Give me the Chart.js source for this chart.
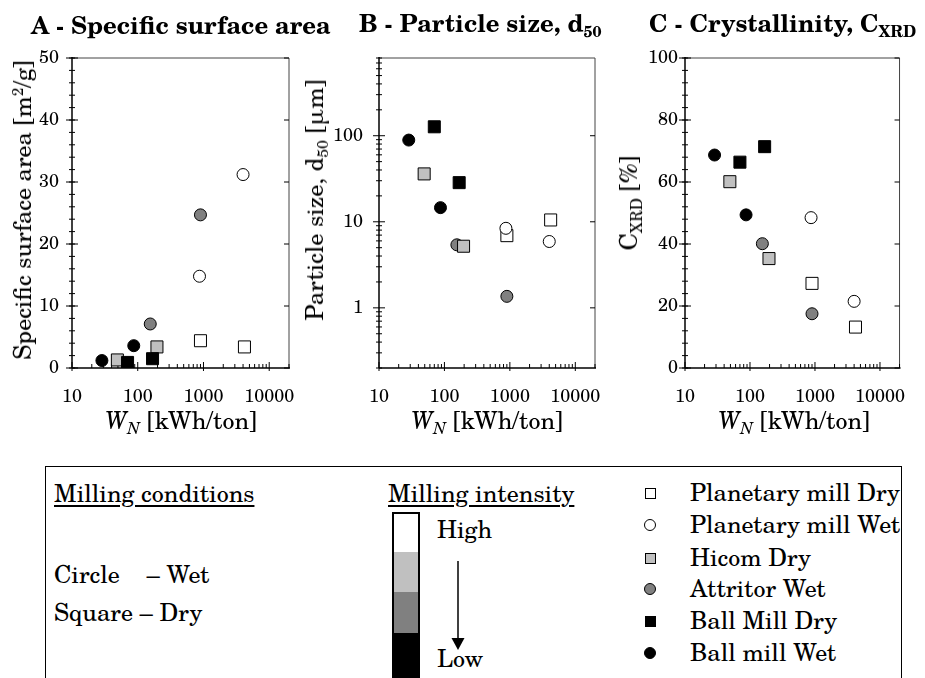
<!DOCTYPE html>
<html>
<head>
<meta charset="utf-8">
<script src="https://cdn.jsdelivr.net/npm/chart.js@4.4.0/dist/chart.umd.min.js"></script>
<style>
  body { margin: 0; width: 925px; height: 678px; background: #fff; position: relative; overflow: hidden;
         font-family: "TeX Gyre Schola", "Liberation Serif", serif; color: #000; }
  canvas.panel { position: absolute; left: 0; top: 0; }
  .t { position: absolute; white-space: pre; line-height: 1; }
  .title { font-weight: bold; font-size: 24px; }
  .title sub { font-size: 0.66em; vertical-align: -0.32em; line-height: 0; }
  .ax { font-size: 24px; }
  .ax sub { font-size: 0.66em; vertical-align: -0.3em; line-height: 0; }
  .ax sup { font-size: 0.62em; vertical-align: 0.55em; line-height: 0; }
  .rot { transform: translate(-50%, -50%) rotate(-90deg); }
  .ctr { transform: translateX(-50%); }
  .lg { font-size: 24px; }
  .ul { text-decoration: underline; text-decoration-thickness: 1.5px; text-underline-offset: 3px; }
  #legendBox { position: absolute; left: 45px; top: 466px; width: 855px; height: 240px; border: 1.5px solid #000; }
  .mk { position: absolute; box-sizing: border-box; border: 1px solid #000; }
</style>
</head>
<body>
<canvas id="chartA" class="panel" width="925" height="440"></canvas>
<canvas id="chartB" class="panel" width="925" height="440"></canvas>
<canvas id="chartC" class="panel" width="925" height="440"></canvas>

<div class="t title" data-x="31" data-b="34">A - Specific surface area</div>
<div class="t title" data-x="359" data-b="32">B - Particle size, d<sub>50</sub></div>
<div class="t title" data-x="649" data-b="32">C - Crystallinity, C<sub>XRD</sub></div>

<div class="t ax rot" style="left:22px; top:210px;">Specific surface area [m<sup>2</sup>/g]</div>
<div class="t ax rot" style="left:314px; top:200px;">Particle size, d<sub>50</sub> [μm]</div>
<div class="t ax rot" style="left:628px; top:203px;">C<sub>XRD</sub> [%]</div>

<div class="t ax ctr" data-x="181" data-b="429"><i>W<sub>N</sub></i> [kWh/ton]</div>
<div class="t ax ctr" data-x="487" data-b="429"><i>W<sub>N</sub></i> [kWh/ton]</div>
<div class="t ax ctr" data-x="794" data-b="429"><i>W<sub>N</sub></i> [kWh/ton]</div>

<div id="legendBox"></div>
<div class="t lg ul" data-x="54" data-b="502">Milling conditions</div>
<div class="t lg" data-x="54" data-b="583">Circle    – Wet</div>
<div class="t lg" data-x="54" data-b="621">Square – Dry</div>
<div class="t lg ul" data-x="388" data-b="502">Milling intensity</div>
<svg style="position:absolute; left:380px; top:505px;" width="100" height="175">
  <rect x="13" y="8" width="26" height="39" fill="#fff"/>
  <rect x="13" y="47" width="26" height="40" fill="#c0c0c0"/>
  <rect x="13" y="87" width="26" height="41" fill="#808080"/>
  <rect x="13" y="128" width="26" height="45" fill="#000"/>
  <rect x="13" y="8" width="26" height="165" fill="none" stroke="#000" stroke-width="2"/>
  <line x1="78" y1="56" x2="78" y2="135" stroke="#000" stroke-width="1.5"/>
  <polygon points="71.5,133 84.5,133 78,145" fill="#000"/>
</svg>
<div class="t lg" data-x="437" data-b="538">High</div>
<div class="t lg" data-x="437" data-b="667">Low</div>
<div id="legendRows"></div>

<script>
// W_N, specific milling energy [kWh/ton], two points per mill
const seriesNames = ['Planetary mill Wet', 'Planetary mill Dry', 'Ball Mill Dry', 'Hicom Dry', 'Attritor Wet', 'Ball mill Wet'];
const wnPlanWet = [870, 4000];
const wnPlanDry = [900, 4200];
const wnBallDry = [70, 168];
const wnHicomDry = [49, 196];
const wnAttrWet = [155, 900];
const wnBallWet = [28.5, 87];

// A - specific surface area [m2/g]
const ssaPlanWet = [14.8, 31.2];
const ssaPlanDry = [4.4, 3.4];
const ssaBallDry = [0.9, 1.5];
const ssaHicomDry = [1.3, 3.4];
const ssaAttrWet = [7.1, 24.7];
const ssaBallWet = [1.2, 3.6];

// B - particle size d50 [um]
const d50PlanWet = [8.4, 5.9];
const d50PlanDry = [6.9, 10.5];
const d50BallDry = [127, 28.5];
const d50HicomDry = [36, 5.2];
const d50AttrWet = [5.4, 1.36];
const d50BallWet = [89, 14.6];

// C - crystallinity [%]
const cxrdPlanWet = [48.5, 21.5];
const cxrdPlanDry = [27.3, 13.2];
const cxrdBallDry = [66.4, 71.4];
const cxrdHicomDry = [60.1, 35.3];
const cxrdAttrWet = [40.1, 17.5];
const cxrdBallWet = [68.7, 49.4];

// tick labels
const xTicks = [10, 100, 1000, 10000];
const ssaTicks = [0, 10, 20, 30, 40, 50];
const d50Ticks = [1, 10, 100];
const cxrdTicks = [0, 20, 40, 60, 80, 100];

const wnAll = [wnPlanWet, wnPlanDry, wnBallDry, wnHicomDry, wnAttrWet, wnBallWet];

// marker look per series (same order as seriesNames)
const looks = [
  { shape: 'circle', fill: '#ffffff' },
  { shape: 'rect', fill: '#ffffff' },
  { shape: 'rect', fill: '#000000' },
  { shape: 'rect', fill: '#c0c0c0' },
  { shape: 'circle', fill: '#808080' },
  { shape: 'circle', fill: '#000000' }
];

const FONT = "'TeX Gyre Schola', 'Liberation Serif', serif";

// place text divs by their baseline
const measure = document.createElement('canvas').getContext('2d');
document.querySelectorAll('.t[data-b]').forEach(el => {
  const cs = getComputedStyle(el);
  const fs = parseFloat(cs.fontSize);
  measure.font = `${cs.fontWeight} ${fs}px ${FONT}`;
  const m = measure.measureText('Hg');
  const asc = m.fontBoundingBoxAscent, desc = m.fontBoundingBoxDescent;
  const off = (fs - (asc + desc)) / 2 + asc;
  el.style.left = el.dataset.x + 'px';
  el.style.top = (parseFloat(el.dataset.b) - off) + 'px';
});

function logMinor(min, max) {
  const out = [];
  for (let e = Math.floor(Math.log10(min)); e <= Math.ceil(Math.log10(max)); e++) {
    for (let d = 2; d <= 9; d++) {
      const v = d * Math.pow(10, e);
      if (v >= min && v <= max) out.push(v);
    }
  }
  return out;
}

function linMinor(min, max, step) {
  const out = [];
  for (let v = min; v <= max + 1e-9; v += step) out.push(v);
  return out;
}

// frame + inward/crossing tick marks
const frameTicks = {
  id: 'frameTicks',
  beforeDatasetsDraw(chart) {
    const { ctx, chartArea: a, scales: { x, y } } = chart;
    const o = chart.options.plugins.frameTicks;
    const line = (x1, y1, x2, y2) => { ctx.beginPath(); ctx.moveTo(x1, y1); ctx.lineTo(x2, y2); ctx.stroke(); };
    ctx.save();
    ctx.strokeStyle = '#444';
    ctx.lineWidth = 1;
    line(a.left, a.top, a.right, a.top);
    line(a.right, a.top, a.right, a.bottom);
    ctx.strokeStyle = '#000';
    ctx.lineWidth = 1.5;
    line(a.left, a.top - 1, a.left, a.bottom);
    line(a.left, a.bottom, a.right + 1, a.bottom);
    ctx.lineWidth = 1;
    logMinor(x.min, x.max).forEach(v => {
      const p = x.getPixelForValue(v);
      line(p, a.bottom, p, a.bottom - 4);
    });
    xTicks.forEach(v => {
      const p = x.getPixelForValue(v);
      line(p, a.bottom + 3, p, a.bottom - 6);
    });
    o.yMinor.forEach(v => {
      const p = y.getPixelForValue(v);
      line(a.left - 3, p, a.left + 3, p);
    });
    o.yMajor.forEach(v => {
      const p = y.getPixelForValue(v);
      line(a.left - 6, p, a.left + 6, p);
      line(a.right - 5, p, a.right, p);
    });
    ctx.restore();
  }
};

const tickFont = { family: FONT, size: 18 };

function makeSets(vals) {
  return seriesNames.map((name, i) => ({
    label: name,
    data: wnAll[i].map((w, j) => ({ x: w, y: vals[i][j] })),
    pointStyle: looks[i].shape,
    pointRadius: looks[i].shape === 'rect' ? 8.5 : 6,
    backgroundColor: looks[i].fill,
    borderColor: '#000',
    borderWidth: 1
  }));
}

function makePanel(id, box, yCfg, vals) {
  const H = 440, W = 925;
  new Chart(document.getElementById(id), {
    type: 'scatter',
    data: { datasets: makeSets(vals) },
    options: {
      responsive: false,
      animation: false,
      layout: { padding: { left: 0, top: box.top, right: W - box.right, bottom: 0 } },
      plugins: {
        legend: { display: false },
        tooltip: { enabled: false },
        frameTicks: { yMajor: yCfg.ticks, yMinor: yCfg.minor }
      },
      scales: {
        x: {
          type: 'logarithmic', min: 10, max: 20000,
          grid: { display: false, drawTicks: false },
          border: { display: false },
          afterBuildTicks: s => { s.ticks = xTicks.map(v => ({ value: v })); },
          ticks: { font: tickFont, color: '#000', padding: 18, maxRotation: 0, autoSkip: false,
                   callback: v => String(v) },
          afterFit: s => { s.height = H - box.bottom; }
        },
        y: {
          type: yCfg.type, min: yCfg.min, max: yCfg.max,
          grid: { display: false, drawTicks: false },
          border: { display: false },
          afterBuildTicks: s => { s.ticks = yCfg.ticks.map(v => ({ value: v })); },
          ticks: { font: tickFont, color: '#000', padding: yCfg.pad, autoSkip: false,
                   callback: v => String(v) },
          afterFit: s => { s.width = box.left; }
        }
      }
    },
    plugins: [frameTicks]
  });
}

makePanel('chartA', { left: 72, right: 289, top: 58, bottom: 368 },
  { type: 'linear', min: 0, max: 50, ticks: ssaTicks, minor: linMinor(0, 50, 2), pad: 13 },
  [ssaPlanWet, ssaPlanDry, ssaBallDry, ssaHicomDry, ssaAttrWet, ssaBallWet]);

makePanel('chartB', { left: 379, right: 595, top: 58, bottom: 368 },
  { type: 'logarithmic', min: 0.2, max: 800, ticks: d50Ticks, minor: logMinor(0.2, 800), pad: 16 },
  [d50PlanWet, d50PlanDry, d50BallDry, d50HicomDry, d50AttrWet, d50BallWet]);

makePanel('chartC', { left: 685, right: 903, top: 58, bottom: 368 },
  { type: 'linear', min: 0, max: 100, ticks: cxrdTicks, minor: linMinor(0, 100, 4), pad: 7 },
  [cxrdPlanWet, cxrdPlanDry, cxrdBallDry, cxrdHicomDry, cxrdAttrWet, cxrdBallWet]);

// legend rows, in the order shown in the figure
const legendOrder = [1, 0, 3, 4, 2, 5];
const rowY = [493, 525, 558, 589, 621, 653];
const rows = document.getElementById('legendRows');
measure.font = `400 24px ${FONT}`;
const lm = measure.measureText('Hg');
const legendOff = (24 - (lm.fontBoundingBoxAscent + lm.fontBoundingBoxDescent)) / 2 + lm.fontBoundingBoxAscent;
legendOrder.forEach((si, r) => {
  const look = looks[si];
  const mk = document.createElement('div');
  mk.className = 'mk';
  const size = look.shape === 'rect' ? 11 : 12;
  mk.style.width = size + 'px';
  mk.style.height = size + 'px';
  mk.style.left = (650 - size / 2) + 'px';
  mk.style.top = (rowY[r] - size / 2) + 'px';
  mk.style.background = look.fill;
  if (look.shape === 'circle') mk.style.borderRadius = '50%';
  rows.appendChild(mk);
  const tx = document.createElement('div');
  tx.className = 't lg';
  tx.style.left = '690px';
  tx.style.top = (rowY[r] + 8.5 - legendOff) + 'px';
  tx.textContent = seriesNames[si];
  rows.appendChild(tx);
});
</script>
</body>
</html>
